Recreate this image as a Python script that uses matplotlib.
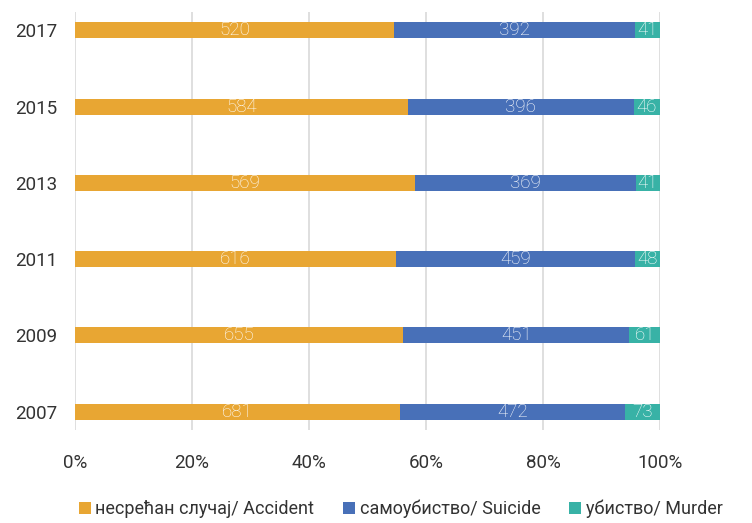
import numpy as np
import matplotlib.pyplot as plt
from matplotlib.ticker import PercentFormatter

plt.rcParams['font.family'] = ['Roboto', 'DejaVu Sans']

# Données
years = ['2007', '2009', '2011', '2013', '2015', '2017']
accident = [681, 655, 616, 569, 584, 520]
suicide = [472, 451, 459, 369, 396, 392]
murder = [73, 61, 48, 41, 46, 41]

series = [
    ('несрећан случај/ Accident', accident, '#E8A633'),
    ('самоубиство/ Suicide', suicide, '#4870B8'),
    ('убиство/ Murder', murder, '#38B2A6'),
]

totals = np.array(accident) + np.array(suicide) + np.array(murder)
y = np.arange(len(years))

fig = plt.figure(figsize=(7.52, 5.23), dpi=100)
ax = fig.add_axes([0.0997, 0.178, 0.778, 0.799])

left = np.zeros(len(years))
for name, vals, color in series:
    share = np.array(vals) / totals * 100
    ax.barh(y, share, left=left, height=0.21, color=color, label=name)
    for yi, l, w, v in zip(y, left, share, vals):
        ax.text(l + w / 2, yi, str(v), ha='center', va='center',
                color='white', fontsize=13.5, fontweight='light')
    left += share

ax.set_xlim(0, 100)
ax.set_ylim(-0.24, 5.24)
ax.set_yticks(y)
ax.set_yticklabels(years)
ax.set_xticks(np.arange(0, 101, 20))
ax.xaxis.set_major_formatter(PercentFormatter(decimals=0))
ax.tick_params(axis='both', length=0, labelsize=13.5, colors='#333333')
ax.tick_params(axis='x', pad=17)
ax.tick_params(axis='y', pad=13)
ax.grid(axis='x', color='#D9D9D9', linewidth=1.2)
ax.set_axisbelow(True)
for s in ax.spines.values():
    s.set_visible(False)

fig.legend(loc='lower center', bbox_to_anchor=(0.533, -0.022), ncol=3, frameon=False,
           fontsize=13, handlelength=0.65, handleheight=0.65, handletextpad=0.25,
           columnspacing=1.6, labelcolor='#333333')

fig.savefig('out.png', dpi=100)
